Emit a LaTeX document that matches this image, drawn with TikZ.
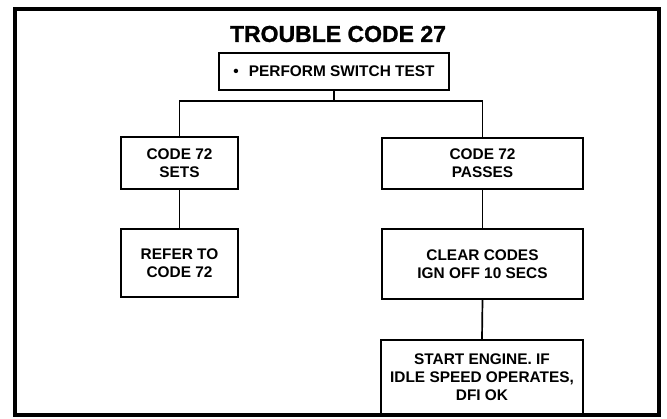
\documentclass[tikz,border=0pt]{standalone}
\usepackage{fontspec}
\setmainfont{Liberation Sans}
\newfontfamily\titlefont[FakeBold=1.2]{Liberation Sans Bold}
\begin{document}
\begin{tikzpicture}[x=1pt,y=-1pt,
  box/.style={draw, line width=1.7pt, inner sep=0pt, align=center,
    font=\fontsize{15.4}{18}\selectfont\bfseries},
  link/.style={line width=1.7pt}]
\useasboundingbox (0,0) rectangle (667,419);
\draw[line width=3.5pt] (15,9) rectangle (659,415);
\node[font=\fontsize{23}{26}\selectfont\titlefont] (title) at (338,34) {TROUBLE CODE 27};
\node[box, minimum width=230pt, minimum height=37pt] (perf) at (334,71.5) {•\hspace{10pt}PERFORM SWITCH TEST};
\node[box, minimum width=117pt, minimum height=52pt] (sets) at (179.5,163) {CODE 72\\SETS};
\node[box, minimum width=117pt, minimum height=68pt] (refer) at (179.5,263) {REFER TO\\CODE 72};
\node[box, minimum width=201pt, minimum height=51pt] (pass) at (482.5,163.5) {CODE 72\\PASSES};
\node[box, minimum width=201pt, minimum height=70pt] (clear) at (482.5,264) {CLEAR CODES\\IGN OFF 10 SECS};
\node[box, minimum width=202pt, minimum height=74pt] (start) at (482,377) {START ENGINE. IF\\IDLE SPEED OPERATES,\\DFI OK};
\coordinate (j) at (334,101);
\draw[link] (perf.south) -- (j);
\draw[link] (sets.north) -- (sets.north |- j) -- (pass.north |- j) -- (pass.north);
\draw[link] (sets.south) -- (refer.north);
\draw[link] (pass.south) -- (clear.north);
\draw[link] (clear.south) -- (start.north);
\end{tikzpicture}
\end{document}
